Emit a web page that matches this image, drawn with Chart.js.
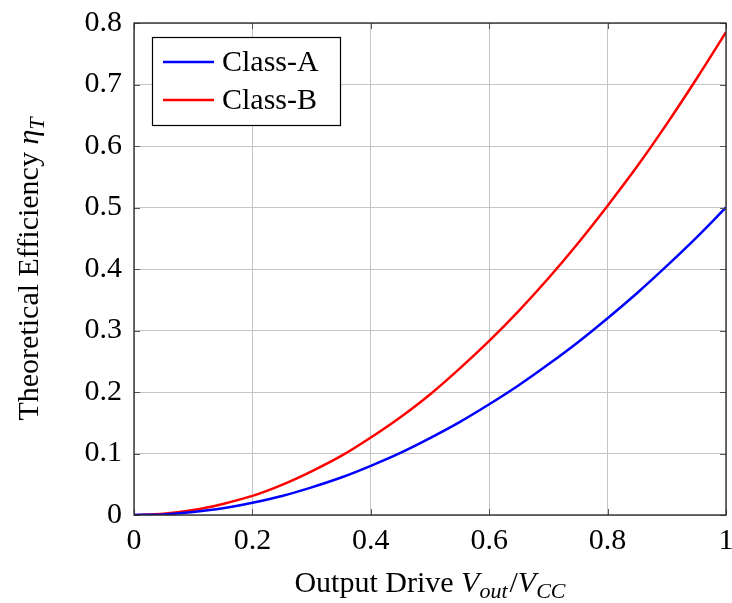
<!DOCTYPE html>
<html>
<head>
<meta charset="utf-8">
<script src="https://cdn.jsdelivr.net/npm/chart.js@4/dist/chart.umd.min.js"></script>
<style>
  html, body { margin: 0; padding: 0; background: #ffffff; }
  canvas { display: block; }
</style>
</head>
<body>
<canvas id="c" width="732" height="603"></canvas>
<script>
// Output drive (Vout / Vcc)
const drive = [0, 0.05, 0.1, 0.15, 0.2, 0.25, 0.3, 0.35, 0.4, 0.45, 0.5,
               0.55, 0.6, 0.65, 0.7, 0.75, 0.8, 0.85, 0.9, 0.95, 1.0];
// Theoretical efficiency, class-A stage
const classA = [0, 0.001, 0.005, 0.011, 0.020, 0.031, 0.045, 0.061, 0.080, 0.101, 0.125,
                0.151, 0.180, 0.211, 0.245, 0.281, 0.320, 0.361, 0.405, 0.451, 0.500];
// Theoretical efficiency, class-B stage
const classB = [0, 0.002, 0.008, 0.018, 0.031, 0.049, 0.071, 0.096, 0.126, 0.159, 0.196,
                0.238, 0.283, 0.332, 0.385, 0.442, 0.503, 0.567, 0.636, 0.709, 0.785];
const seriesNames = ['Class-A', 'Class-B'];
const xTicks = [0, 0.2, 0.4, 0.6, 0.8, 1];
const xTickLabels = ['0', '0.2', '0.4', '0.6', '0.8', '1'];
const yTicks = [0, 0.1, 0.2, 0.3, 0.4, 0.5, 0.6, 0.7, 0.8];
const yTickLabels = ['0', '0.1', '0.2', '0.3', '0.4', '0.5', '0.6', '0.7', '0.8'];

const FONT = '"Liberation Serif", "DejaVu Serif", serif';
const FS = 30;

function pts(xs, ys) { return xs.map((x, i) => ({ x: x, y: ys[i] })); }

// Draws a run of text pieces (regular / italic / subscript)
function drawRich(ctx, parts, x, y, align) {
  const fontOf = p => (p.it ? 'italic ' : '') + (p.sub ? Math.round(FS * 0.72) : FS) + 'px ' + FONT;
  const widths = parts.map(p => { ctx.font = fontOf(p); return ctx.measureText(p.t).width + (p.gap || 0); });
  const total = widths.reduce((a, b) => a + b, 0);
  let cx = align === 'center' ? x - total / 2 : x;
  ctx.textBaseline = 'alphabetic';
  ctx.textAlign = 'left';
  parts.forEach((p, i) => {
    ctx.font = fontOf(p);
    ctx.fillText(p.t, cx, y + (p.sub ? 6 : 0));
    cx += widths[i];
  });
}

const framePlugin = {
  id: 'frame',
  afterDatasetsDraw(chart) {
    const ctx = chart.ctx;
    const a = chart.chartArea;
    const xs = chart.scales.x, ys = chart.scales.y;
    ctx.save();
    // inward tick marks on all four sides
    ctx.strokeStyle = '#555555';
    ctx.lineWidth = 1;
    const tl = 6;
    ctx.beginPath();
    xTicks.forEach(v => {
      const px = Math.round(xs.getPixelForValue(v)) + 0.5;
      ctx.moveTo(px, a.bottom); ctx.lineTo(px, a.bottom - tl);
      ctx.moveTo(px, a.top); ctx.lineTo(px, a.top + tl);
    });
    yTicks.forEach(v => {
      const py = Math.round(ys.getPixelForValue(v)) + 0.5;
      ctx.moveTo(a.left, py); ctx.lineTo(a.left + tl, py);
      ctx.moveTo(a.right, py); ctx.lineTo(a.right - tl, py);
    });
    ctx.stroke();
    // axis box
    ctx.strokeStyle = '#222222';
    ctx.lineWidth = 1.3;
    ctx.strokeRect(a.left, a.top, a.right - a.left, a.bottom - a.top);

    // legend
    const lx = a.left + 18, ly = a.top + 14, lw = 188, lh = 88;
    ctx.fillStyle = '#ffffff';
    ctx.fillRect(lx, ly, lw, lh);
    ctx.strokeStyle = '#000000';
    ctx.lineWidth = 1.2;
    ctx.strokeRect(lx + 0.5, ly + 0.5, lw, lh);
    chart.data.datasets.forEach((ds, i) => {
      const yy = ly + 25 + i * 38;
      ctx.strokeStyle = ds.borderColor;
      ctx.lineWidth = 2.5;
      ctx.beginPath();
      ctx.moveTo(lx + 11, yy); ctx.lineTo(lx + 62, yy);
      ctx.stroke();
      ctx.fillStyle = '#000000';
      ctx.font = FS + 'px ' + FONT;
      ctx.textAlign = 'left';
      ctx.textBaseline = 'middle';
      ctx.fillText(ds.label, lx + 70, yy + 1);
    });

    // axis titles
    ctx.fillStyle = '#000000';
    drawRich(ctx, [
      { t: 'Output Drive ' }, { t: 'V', it: true }, { t: 'out', it: true, sub: true, gap: 2 },
      { t: '/' }, { t: 'V', it: true }, { t: 'CC', it: true, sub: true }
    ], (a.left + a.right) / 2, 592, 'center');
    ctx.translate(38, (a.top + a.bottom) / 2);
    ctx.rotate(-Math.PI / 2);
    drawRich(ctx, [
      { t: 'Theoretical Efficiency ' }, { t: 'η', it: true }, { t: 'T', it: true, sub: true }
    ], 0, 0, 'center');
    ctx.restore();
  }
};

new Chart(document.getElementById('c'), {
  type: 'line',
  data: {
    datasets: [
      { label: seriesNames[0], data: pts(drive, classA), borderColor: '#0000ff',
        borderWidth: 2.5, pointRadius: 0, cubicInterpolationMode: 'monotone', fill: false },
      { label: seriesNames[1], data: pts(drive, classB), borderColor: '#ff0000',
        borderWidth: 2.5, pointRadius: 0, cubicInterpolationMode: 'monotone', fill: false }
    ]
  },
  options: {
    responsive: false,
    animation: false,
    layout: { padding: { top: 23, right: 6, left: 0, bottom: 0 } },
    plugins: { legend: { display: false }, tooltip: { enabled: false } },
    scales: {
      x: {
        type: 'linear', min: 0, max: 1,
        afterBuildTicks: s => { s.ticks = xTicks.map(v => ({ value: v })); },
        afterFit: s => { s.height = 88; s.paddingLeft = 0; s.paddingRight = 0; },
        grid: { color: '#c4c4c4', lineWidth: 1, drawTicks: false },
        border: { display: false },
        ticks: { color: '#000000', padding: 8, maxRotation: 0,
                 callback: (v, i) => xTickLabels[i],
                 font: { family: FONT, size: FS } }
      },
      y: {
        type: 'linear', min: 0, max: 0.8,
        afterBuildTicks: s => { s.ticks = yTicks.map(v => ({ value: v })); },
        afterFit: s => { s.width = 134; s.paddingTop = 0; s.paddingBottom = 0; },
        grid: { color: '#c4c4c4', lineWidth: 1, drawTicks: false },
        border: { display: false },
        ticks: { color: '#000000', padding: 12,
                 callback: (v, i) => yTickLabels[i],
                 font: { family: FONT, size: FS } }
      }
    }
  },
  plugins: [framePlugin]
});
</script>
</body>
</html>
